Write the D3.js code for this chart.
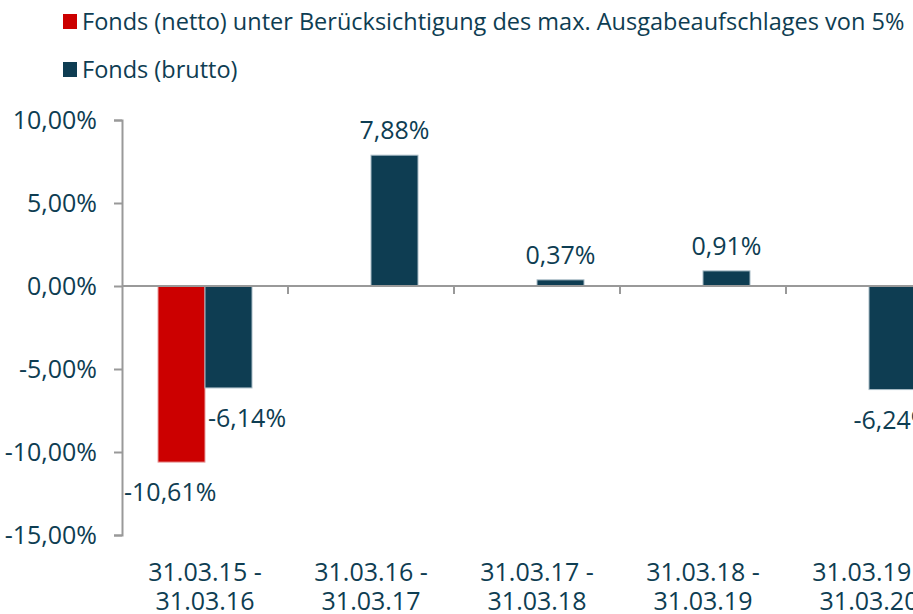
<!DOCTYPE html>
<html>
<head>
<meta charset="utf-8">
<script src="https://cdn.jsdelivr.net/npm/d3@7"></script>
<style>
  body { margin: 0; background: #fff; }
  text { font-family: "Open Sans", sans-serif; fill: #0e3d52; }
</style>
</head>
<body>
<div id="chart"></div>
<script>
// periods and series
var periods = [["31.03.15 -", "31.03.16"], ["31.03.16 -", "31.03.17"], ["31.03.17 -", "31.03.18"], ["31.03.18 -", "31.03.19"], ["31.03.19 -", "31.03.20"]]
var netto = [-10.61, null, null, null, null]
var brutto = [-6.14, 7.88, 0.37, 0.91, -6.24]
var seriesNames = ["Fonds (netto) unter Berücksichtigung des max. Ausgabeaufschlages von 5%", "Fonds (brutto)"]
var seriesColors = ["#cc0000", "#0e3d52"]
var yTicks = [10, 5, 0, -5, -10, -15]

var width = 913, height = 614
var fmt = function(v){ return v.toFixed(2).replace(".", ",") + "%" }

var svg = d3.select("#chart").append("svg")
    .attr("width", width)
    .attr("height", height)

var x = d3.scaleBand()
    .domain(d3.range(periods.length))
    .range([122, 952])

var y = d3.scaleLinear()
    .domain([-15, 10])
    .range([535, 120])

var barW = 47

// legend
var legend = svg.selectAll(".legend")
    .data(seriesNames)
    .enter()
    .append("g")
    .attr("transform", function(d, i){ return "translate(63," + (22 + i * 48) + ")" })
legend.append("rect")
    .attr("x", 0).attr("y", -8)
    .attr("width", 14).attr("height", 15)
    .attr("fill", function(d, i){ return seriesColors[i] })
legend.append("text")
    .attr("x", 19).attr("dy", "0.35em")
    .style("font-size", "23.5px")
    .text(function(d){ return d })

// y axis
var yAxis = svg.append("g")
    .attr("transform", "translate(122,0)")
    .call(d3.axisLeft(y).tickValues(yTicks).tickSize(8).tickPadding(17).tickFormat(fmt))
yAxis.select(".domain").attr("stroke", "#999").attr("stroke-width", 2)
yAxis.selectAll(".tick line").attr("stroke", "#999").attr("stroke-width", 2)
yAxis.selectAll(".tick text").style("font-size", "25px").attr("fill", "#0e3d52")

// bars
var netBars = svg.selectAll(".net")
    .data(netto)
    .enter()
    .filter(function(d){ return d != null })
netBars.append("rect")
    .attr("x", function(d, i){ return x(i) + x.bandwidth() / 2 - barW })
    .attr("width", barW)
    .attr("y", function(d){ return y(Math.max(0, d)) })
    .attr("height", function(d){ return Math.abs(y(d) - y(0)) })
    .attr("fill", seriesColors[0])
    .attr("stroke", "#e8a0a0").attr("stroke-width", 1)

svg.selectAll(".bru")
    .data(brutto)
    .enter()
    .append("rect")
    .attr("x", function(d, i){ return x(i) + x.bandwidth() / 2 })
    .attr("width", barW)
    .attr("y", function(d){ return y(Math.max(0, d)) })
    .attr("height", function(d){ return Math.abs(y(d) - y(0)) })
    .attr("fill", seriesColors[1])
    .attr("stroke", "#a8bcc6").attr("stroke-width", 1)

// x axis at zero
var xAxis = svg.append("g")
    .attr("transform", "translate(0," + y(0) + ")")
xAxis.append("line")
    .attr("x1", 122).attr("x2", width)
    .attr("stroke", "#999").attr("stroke-width", 2)
xAxis.selectAll(".xt")
    .data(d3.range(1, periods.length + 1))
    .enter()
    .append("line")
    .attr("x1", function(d){ return 122 + d * x.step() })
    .attr("x2", function(d){ return 122 + d * x.step() })
    .attr("y1", 0).attr("y2", 8)
    .attr("stroke", "#999").attr("stroke-width", 2)

// category labels
var cat = svg.selectAll(".cat")
    .data(periods)
    .enter()
    .append("text")
    .attr("text-anchor", "middle")
    .style("font-size", "25px")
    .attr("transform", function(d, i){ return "translate(" + (x(i) + x.bandwidth() / 2) + ",581)" })
cat.selectAll("tspan")
    .data(function(d){ return d })
    .enter()
    .append("tspan")
    .attr("x", 0)
    .attr("dy", function(d, j){ return j == 0 ? 0 : 29 })
    .text(function(d){ return d })

// value labels
function labelY(v){ return v >= 0 ? y(v) - 16 : y(v) + 39 }

netto.forEach(function(v, i){
    if (v == null) return
    svg.append("text")
        .attr("text-anchor", "start")
        .attr("x", x(i) + 2).attr("y", labelY(v))
        .style("font-size", "25px")
        .text(fmt(v))
})

brutto.forEach(function(v, i){
    var t = svg.append("text")
        .attr("text-anchor", "middle")
        .attr("x", x(i) + x.bandwidth() / 2 + barW / 2).attr("y", labelY(v))
        .style("font-size", "25px")
        .text(fmt(v))
    if (netto[i] != null) {
        t.attr("text-anchor", "start").attr("x", x(i) + x.bandwidth() / 2 + 3)
    }
})
</script>
</body>
</html>
